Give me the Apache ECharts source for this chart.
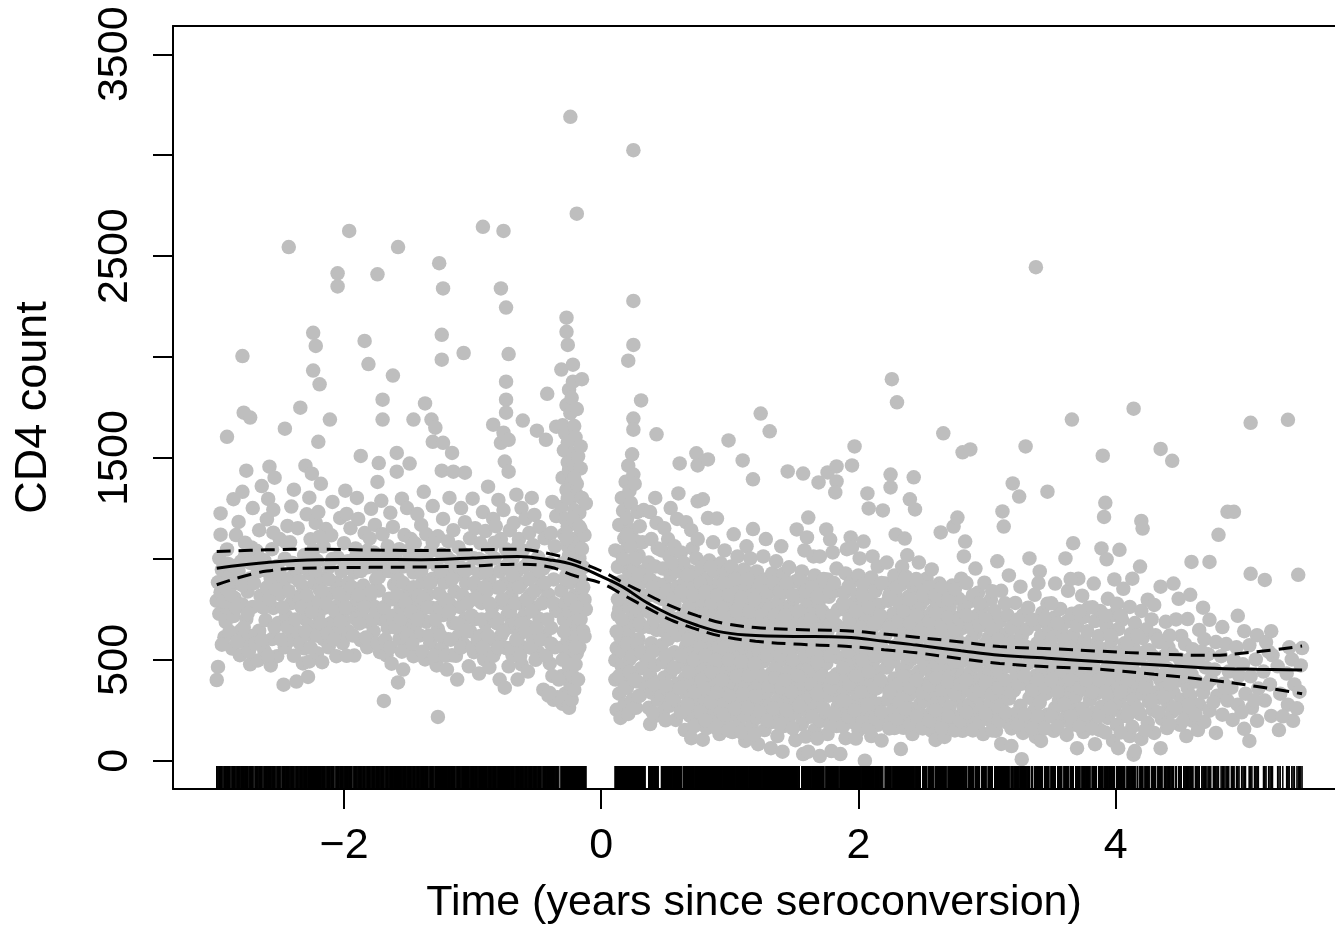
<!DOCTYPE html>
<html><head><meta charset="utf-8">
<script src="https://cdn.jsdelivr.net/npm/echarts@6/dist/echarts.min.js"></script>
<style>html,body{margin:0;padding:0;background:#fff}#main{width:1335px;height:949px}</style>
</head><body><div id="main"></div>
<script>
// ---- Data: [time (years since seroconversion), CD4 count] ----
const preSero = [
[-2.99,400],[-2.98,465],[-2.97,728],[-2.99,792],[-2.96,835],[-2.98,884],[-2.95,946],[-2.97,1003],[-2.96,1225],
[-2.93,612],[-2.92,688],[-2.91,757],[-2.92,853],[-2.9,909],[-2.91,1047],[-2.91,1605],
[-2.87,556],[-2.86,717],[-2.85,806],[-2.87,872],[-2.86,963],[-2.84,1118],[-2.86,1296],
[-2.81,523],[-2.8,647],[-2.79,774],[-2.81,893],[-2.8,988],[-2.82,1183],[-2.79,1332],[-2.79,2005],
[-2.77,584],[-2.76,703],[-2.75,838],[-2.77,1012],[-2.76,1437],[-2.78,1724],
[-2.73,478],[-2.72,618],[-2.71,762],[-2.73,903],[-2.72,1057],[-2.71,1252],[-2.73,1700],
[-2.67,497],[-2.66,644],[-2.65,817],[-2.67,938],[-2.66,1142],[-2.64,1361],
[-2.62,546],[-2.61,697],[-2.6,858],[-2.62,993],[-2.6,1196],[-2.59,1297],[-2.58,1457],
[-2.57,472],[-2.56,603],[-2.55,757],[-2.57,902],[-2.56,1048],[-2.55,1243],[-2.54,1402],
[-2.52,518],[-2.51,683],[-2.5,826],[-2.52,963],[-2.5,1098],
[-2.47,377],[-2.46,562],[-2.45,718],[-2.47,884],[-2.46,1001],[-2.44,1163],[-2.46,1645],[-2.43,2545],
[-2.42,598],[-2.41,781],[-2.4,912],[-2.42,1082],[-2.41,1259],[-2.39,1343],
[-2.37,392],[-2.36,638],[-2.35,812],[-2.37,947],[-2.36,1152],[-2.34,1749],
[-2.32,482],[-2.31,557],[-2.3,702],[-2.32,863],[-2.31,1018],[-2.29,1221],[-2.3,1462],
[-2.28,415],[-2.27,492],[-2.26,622],[-2.28,788],[-2.27,928],[-2.26,1097],[-2.27,1303],[-2.25,1422],
[-2.24,2120],[-2.24,1933],[-2.25,662],[-2.23,878],[-2.24,1043],[-2.22,1178],
[-2.22,2055],[-2.19,1865],[-2.2,1580],[-2.21,533],[-2.2,722],[-2.19,848],[-2.21,992],[-2.2,1232],[-2.18,1372],
[-2.17,488],[-2.16,603],[-2.15,758],[-2.17,902],[-2.16,1062],[-2.14,1148],
[-2.11,1690],[-2.12,562],[-2.1,683],[-2.11,828],[-2.12,958],[-2.1,1117],[-2.09,1282],
[-2.05,2415],[-2.05,2350],[-2.06,518],[-2.05,642],[-2.04,773],[-2.06,882],[-2.05,1008],[-2.03,1203],
[-2.01,583],[-2.0,698],[-1.99,822],[-2.01,947],[-2.0,1078],[-1.98,1223],[-1.99,1338],
[-1.96,2625],[-1.97,643],[-1.96,757],[-1.95,862],[-1.97,988],[-1.95,1152],
[-1.92,521],[-1.91,703],[-1.9,797],[-1.92,932],[-1.91,1052],[-1.89,1198],[-1.9,1302],
[-1.87,1510],[-1.87,598],[-1.86,742],[-1.85,868],[-1.86,1003],[-1.84,1128],[-1.84,2080],
[-1.81,1965],[-1.82,562],[-1.81,688],[-1.8,812],[-1.82,958],[-1.8,1102],[-1.79,1248],
[-1.74,2410],[-1.77,641],[-1.76,762],[-1.75,898],[-1.77,1032],[-1.76,1168],[-1.74,1381],
[-1.73,1475],[-1.72,538],[-1.71,702],[-1.73,843],[-1.72,978],[-1.7,1122],[-1.71,1288],
[-1.69,296],[-1.7,1789],[-1.7,1690],[-1.67,522],[-1.66,658],[-1.65,803],[-1.67,942],[-1.66,1063],[-1.64,1228],
[-1.62,1908],[-1.59,1525],[-1.59,1432],[-1.63,481],[-1.62,718],[-1.61,872],[-1.6,1012],[-1.62,1158],
[-1.58,2545],[-1.58,388],[-1.57,603],[-1.56,758],[-1.58,902],[-1.57,1048],[-1.55,1298],
[-1.54,452],[-1.53,642],[-1.52,818],[-1.54,962],[-1.53,1118],[-1.51,1252],
[-1.49,1472],[-1.5,562],[-1.49,698],[-1.48,852],[-1.5,992],[-1.48,1098],
[-1.46,1690],[-1.46,518],[-1.45,663],[-1.44,788],[-1.46,932],[-1.45,1078],[-1.43,1222],
[-1.41,621],[-1.4,742],[-1.39,883],[-1.41,1018],[-1.4,1168],[-1.38,1332],
[-1.37,1770],[-1.37,502],[-1.36,688],[-1.35,822],[-1.37,978],[-1.36,1122],
[-1.32,1690],[-1.29,1650],[-1.31,1580],[-1.33,583],[-1.32,758],[-1.31,902],[-1.33,1038],[-1.31,1262],
[-1.27,217],[-1.28,472],[-1.27,652],[-1.26,828],[-1.28,968],[-1.27,1112],
[-1.26,2465],[-1.24,2110],[-1.24,1987],[-1.23,2340],[-1.23,1575],[-1.16,1525],[-1.24,1437],
[-1.24,558],[-1.23,722],[-1.22,882],[-1.24,1022],[-1.23,1198],
[-1.2,452],[-1.19,602],[-1.18,778],[-1.2,942],[-1.19,1088],[-1.18,1302],
[-1.15,1432],[-1.16,522],[-1.15,682],[-1.14,838],[-1.16,988],[-1.15,1142],
[-1.12,402],[-1.11,618],[-1.1,762],[-1.12,922],[-1.11,1058],[-1.09,1252],
[-1.07,2020],[-1.06,1427],[-1.07,578],[-1.06,702],[-1.05,878],[-1.07,1022],[-1.06,1182],
[-1.03,468],[-1.02,642],[-1.01,798],[-1.03,952],[-1.02,1102],[-1.0,1298],
[-0.99,538],[-0.98,702],[-0.97,858],[-0.99,1003],[-0.98,1152],
[-0.92,2645],[-0.95,432],[-0.94,618],[-0.93,782],[-0.95,928],[-0.94,1078],[-0.92,1232],
[-0.91,502],[-0.9,678],[-0.89,842],[-0.91,988],[-0.9,1138],[-0.88,1358],
[-0.87,462],[-0.86,602],[-0.85,758],[-0.87,902],[-0.86,1052],[-0.84,1198],
[-0.84,1665],[-0.83,538],[-0.82,702],[-0.81,858],[-0.83,1002],[-0.82,1162],[-0.8,1292],
[-0.78,2340],[-0.78,1575],[-0.79,402],[-0.78,618],[-0.77,782],[-0.79,938],[-0.78,1098],[-0.76,1242],
[-0.76,2625],[-0.74,2245],[-0.74,1878],[-0.74,1789],[-0.74,1724],[-0.76,1625],[-0.75,1482],
[-0.75,362],[-0.74,558],[-0.73,722],[-0.75,878],[-0.74,1048],
[-0.72,2015],[-0.72,1590],[-0.72,1432],[-0.72,468],[-0.71,662],[-0.7,818],[-0.72,978],[-0.71,1142],
[-0.69,522],[-0.68,698],[-0.67,862],[-0.69,1002],[-0.68,1178],[-0.66,1318],
[-0.65,402],[-0.64,622],[-0.63,778],[-0.65,942],[-0.64,1098],[-0.62,1252],
[-0.61,1685],[-0.62,478],[-0.61,562],[-0.6,718],[-0.62,878],[-0.61,1042],[-0.59,1198],
[-0.57,442],[-0.56,662],[-0.55,822],[-0.57,978],[-0.56,1128],[-0.54,1302],
[-0.53,602],[-0.52,758],[-0.51,922],[-0.53,1068],[-0.52,1218],
[-0.5,1635],[-0.49,538],[-0.48,702],[-0.47,862],[-0.49,1008],[-0.48,1158],
[-0.42,1818],[-0.43,1590],[-0.45,352],[-0.44,618],[-0.43,798],[-0.45,952],[-0.44,1102],
[-0.41,322],[-0.4,482],[-0.39,658],[-0.41,822],[-0.4,978],[-0.39,1128],[-0.38,1282],
[-0.35,1655],[-0.37,302],[-0.36,562],[-0.35,742],[-0.37,898],[-0.36,1062],[-0.35,1212]
];
const preSeroExtra = [
[-2.95,575],[-2.94,790],[-2.96,1120],[-2.89,640],[-2.88,820],[-2.9,975],[-2.83,590],[-2.84,760],[-2.82,940],[-2.78,660],[-2.79,870],[-2.77,1080],
[-2.74,540],[-2.75,730],[-2.73,980],[-2.69,580],[-2.7,880],[-2.68,1040],[-2.64,600],[-2.63,760],[-2.65,1000],[-2.59,520],[-2.58,800],[-2.6,940],
[-2.54,660],[-2.53,850],[-2.55,1130],[-2.49,600],[-2.48,760],[-2.5,930],[-2.44,660],[-2.43,840],[-2.45,1080],[-2.39,520],[-2.38,700],[-2.4,980],
[-2.34,580],[-2.33,760],[-2.35,890],[-2.3,640],[-2.29,820],[-2.31,960],[-2.26,560],[-2.25,740],[-2.27,1000],[-2.21,620],[-2.2,790],[-2.22,940],
[-2.18,680],[-2.17,840],[-2.19,1110],[-2.13,630],[-2.14,780],[-2.12,900],[-2.08,600],[-2.07,740],[-2.09,1000],[-2.03,690],[-2.04,830],[-2.02,940],
[-1.98,520],[-1.99,760],[-1.97,880],[-1.93,620],[-1.94,860],[-1.92,1000],[-1.88,680],[-1.89,820],[-1.87,940],[-1.83,610],[-1.84,760],[-1.82,1040],
[-1.78,700],[-1.79,840],[-1.77,960],[-1.74,580],[-1.75,740],[-1.73,910],[-1.68,600],[-1.69,760],[-1.67,1010],[-1.64,560],[-1.63,800],[-1.65,940],
[-1.6,660],[-1.59,820],[-1.61,960],[-1.55,540],[-1.56,700],[-1.54,880],[-1.51,620],[-1.52,780],[-1.5,1040],[-1.47,580],[-1.48,740],[-1.46,860],
[-1.43,700],[-1.42,820],[-1.44,1000],[-1.39,540],[-1.38,800],[-1.4,940],[-1.34,620],[-1.35,760],[-1.33,880],[-1.3,520],[-1.29,700],[-1.31,1080],
[-1.25,620],[-1.26,760],[-1.24,940],[-1.21,520],[-1.22,800],[-1.2,1010],[-1.17,600],[-1.18,740],[-1.16,900],[-1.13,520],[-1.12,680],[-1.14,980],
[-1.09,560],[-1.08,820],[-1.1,960],[-1.05,640],[-1.04,780],[-1.06,940],[-1.0,560],[-1.01,720],[-0.99,880],[-0.96,600],[-0.97,800],[-0.95,1000],
[-0.92,560],[-0.93,700],[-0.91,860],[-0.88,620],[-0.87,780],[-0.89,940],[-0.84,520],[-0.85,720],[-0.83,1080],[-0.8,560],[-0.81,680],[-0.79,860],
[-0.76,640],[-0.77,800],[-0.75,960],[-0.7,560],[-0.71,740],[-0.69,920],[-0.66,600],[-0.67,780],[-0.65,1060],[-0.63,520],[-0.62,680],[-0.64,860],
[-0.59,640],[-0.58,800],[-0.6,960],[-0.55,560],[-0.54,740],[-0.56,900],[-0.51,500],[-0.5,660],[-0.52,840],[-0.47,600],[-0.46,780],[-0.48,940],
[-0.43,520],[-0.42,700],[-0.44,880],[-0.38,420],[-0.39,580],[-0.37,780]
];
const stripBefore = [
[-0.31,1938],[-0.3,282],[-0.31,418],[-0.3,562],[-0.29,698],[-0.31,842],[-0.3,978],[-0.29,1122],[-0.31,1258],[-0.3,1402],[-0.29,1538],[-0.3,1662],
[-0.27,2195],[-0.27,2125],[-0.28,332],[-0.27,502],[-0.26,638],[-0.28,782],[-0.27,918],[-0.26,1062],[-0.28,1198],[-0.27,1342],[-0.26,1478],[-0.28,1622],[-0.27,1762],
[-0.26,2060],[-0.24,3190],[-0.26,290],[-0.25,262],[-0.24,378],[-0.25,462],[-0.26,602],[-0.25,738],[-0.24,882],[-0.25,1018],[-0.26,1162],[-0.24,1298],[-0.25,1442],[-0.26,1578],[-0.24,1722],[-0.25,1838],
[-0.22,1878],[-0.23,302],[-0.22,418],[-0.23,552],[-0.22,682],[-0.21,818],[-0.23,962],[-0.22,1098],[-0.21,1242],[-0.23,1378],[-0.22,1522],[-0.21,1658],[-0.23,1798],[-0.22,1962],
[-0.21,352],[-0.2,478],[-0.21,622],[-0.2,758],[-0.19,902],[-0.21,1038],[-0.2,1182],[-0.19,1318],[-0.21,1462],[-0.2,1602],[-0.19,1742],
[-0.19,2710],[-0.18,402],[-0.19,532],[-0.18,668],[-0.17,812],[-0.19,948],[-0.18,1092],[-0.17,1228],[-0.19,1372],[-0.18,1508],
[-0.17,562],[-0.16,702],[-0.15,848],[-0.17,1002],[-0.16,1148],[-0.15,1302],[-0.16,1448],[-0.15,1890],[-0.16,1557],
[-0.14,642],[-0.13,798],[-0.14,958],[-0.13,1118],[-0.12,1275],[-0.12,750],[-0.13,615],
[-0.34,315],[-0.4,335],[-0.33,402],
[-0.3,500],[-0.29,640],[-0.28,900],[-0.27,1100],[-0.26,1300],[-0.25,560],[-0.24,800],[-0.23,1000],[-0.22,1200],[-0.21,1400],
[-0.2,560],[-0.19,760],[-0.18,980],[-0.17,1160],[-0.16,900],[-0.15,1050],[-0.14,860]
];
const stripAfter = [
[0.11,498],[0.12,252],[0.11,402],[0.12,558],[0.13,722],[0.12,878],[0.11,1042],
[0.15,212],[0.14,332],[0.16,468],[0.15,612],[0.14,752],[0.16,888],[0.15,1032],[0.14,1168],[0.16,1302],
[0.18,278],[0.17,422],[0.19,538],[0.18,682],[0.17,822],[0.19,958],[0.18,1102],[0.17,1238],[0.19,1382],
[0.21,1982],[0.21,232],[0.2,362],[0.22,502],[0.21,638],[0.2,782],[0.22,918],[0.21,1062],[0.2,1198],[0.22,1338],[0.21,1462],
[0.24,302],[0.23,438],[0.25,582],[0.24,718],[0.23,862],[0.25,998],[0.24,1142],[0.23,1278],[0.25,1418],[0.24,1518],
[0.25,3025],[0.25,2278],[0.25,2060],[0.25,1695],[0.25,1640],
[0.27,262],[0.28,392],[0.26,528],[0.27,672],[0.28,808],[0.26,952],[0.27,1088],[0.28,1232],[0.26,1372],
[0.3,322],[0.31,458],[0.29,602],[0.3,738],[0.31,882],[0.29,1018],[0.3,1162],
[0.31,1785],[0.33,382],[0.34,518],[0.32,662],[0.33,798],[0.34,942],[0.32,1082],[0.33,1242],
[0.12,640],[0.13,800],[0.13,960],[0.14,420],[0.16,540],[0.16,700],[0.17,1000],[0.18,360],[0.19,860],[0.2,580],[0.2,1120],
[0.22,440],[0.22,760],[0.23,1060],[0.24,520],[0.25,880],[0.26,400],[0.26,760],[0.27,1000],[0.28,580],[0.29,320],[0.29,920],
[0.3,680],[0.31,540],[0.32,820],[0.33,460]
];
const postSero = [
[0.38,182],[0.37,262],[0.39,338],[0.38,422],[0.37,498],[0.39,582],[0.38,662],[0.37,738],[0.39,822],[0.38,898],[0.37,982],[0.39,1098],[0.38,1232],
[0.43,1617],[0.42,222],[0.44,302],[0.43,388],[0.42,472],[0.44,558],[0.43,648],[0.42,732],[0.44,812],[0.43,878],[0.42,962],[0.44,1052],[0.43,1178],[0.42,1302],
[0.48,242],[0.47,328],[0.49,412],[0.48,488],[0.47,572],[0.49,642],[0.48,718],[0.47,802],[0.49,872],[0.48,952],[0.47,1042],[0.49,1152],
[0.53,272],[0.52,352],[0.54,438],[0.53,522],[0.52,602],[0.54,688],[0.53,762],[0.52,842],[0.54,918],[0.53,1012],[0.52,1098],[0.54,1252],
[0.58,202],[0.57,298],[0.59,382],[0.58,462],[0.57,538],[0.59,622],[0.58,702],[0.57,778],[0.59,862],[0.58,938],[0.57,1062],[0.59,1198],[0.6,1324],
[0.61,1473],[0.62,1032],
[0.65,152],[0.64,248],[0.66,332],[0.65,408],[0.64,492],[0.66,568],[0.65,652],[0.64,728],[0.66,812],[0.65,888],[0.64,982],[0.66,1182],
[0.7,112],[0.69,222],[0.71,298],[0.7,382],[0.69,458],[0.71,542],[0.7,618],[0.69,702],[0.71,778],[0.7,862],[0.69,938],[0.71,1052],[0.7,1142],
[0.74,1523],[0.75,1463],[0.75,1285],[0.76,182],[0.74,268],[0.75,352],[0.76,428],[0.74,512],[0.75,588],[0.76,672],[0.74,748],[0.75,832],[0.76,908],[0.74,1002],[0.75,1098],
[0.79,104],[0.78,232],[0.8,308],[0.79,392],[0.78,468],[0.8,552],[0.79,628],[0.78,712],[0.8,788],[0.79,872],[0.78,958],[0.79,1295],
[0.83,1493],[0.82,162],[0.84,258],[0.83,342],[0.82,418],[0.84,502],[0.83,578],[0.82,662],[0.84,738],[0.83,822],[0.82,898],[0.84,992],[0.83,1202],
[0.88,198],[0.87,292],[0.89,372],[0.88,448],[0.87,532],[0.89,608],[0.88,692],[0.87,768],[0.89,852],[0.88,938],[0.87,1082],[0.9,1200],
[0.92,132],[0.93,238],[0.91,322],[0.92,402],[0.93,478],[0.91,562],[0.92,638],[0.93,722],[0.91,798],[0.92,882],[0.93,978],
[0.97,188],[0.96,282],[0.98,358],[0.97,442],[0.96,518],[0.98,602],[0.97,678],[0.96,762],[0.98,838],[0.97,932],[0.96,1042],[0.99,1587],
[1.02,142],[1.01,228],[1.03,312],[1.02,388],[1.01,472],[1.03,548],[1.02,632],[1.01,708],[1.03,792],[1.02,868],[1.01,962],[1.03,1122],
[1.07,178],[1.06,272],[1.08,348],[1.07,432],[1.06,508],[1.08,592],[1.07,668],[1.06,752],[1.08,828],[1.07,922],[1.06,1012],[1.1,1488],
[1.12,98],[1.11,222],[1.13,298],[1.12,382],[1.11,458],[1.13,542],[1.12,618],[1.11,702],[1.13,778],[1.12,862],[1.11,948],[1.13,1062],
[1.18,1394],[1.17,172],[1.16,258],[1.18,342],[1.17,418],[1.16,502],[1.18,578],[1.17,662],[1.16,738],[1.18,822],[1.17,898],[1.16,1002],[1.18,1148],
[1.22,82],[1.21,212],[1.23,288],[1.22,372],[1.21,448],[1.23,532],[1.22,608],[1.21,692],[1.23,768],[1.22,852],[1.21,938],[1.24,1720],
[1.27,152],[1.26,248],[1.28,332],[1.27,408],[1.26,492],[1.28,568],[1.27,652],[1.26,728],[1.28,812],[1.27,898],[1.26,1012],[1.28,1098],[1.31,1632],
[1.32,62],[1.33,192],[1.31,278],[1.32,362],[1.33,438],[1.31,522],[1.32,598],[1.33,682],[1.31,758],[1.32,842],[1.33,928],
[1.37,122],[1.36,232],[1.38,308],[1.37,392],[1.36,468],[1.38,552],[1.37,628],[1.36,712],[1.38,788],[1.37,882],[1.36,988],
[1.41,45],[1.42,172],[1.4,258],[1.41,342],[1.42,418],[1.4,502],[1.41,578],[1.42,662],[1.4,738],[1.41,832],[1.42,928],[1.4,1062],[1.45,1433],
[1.46,212],[1.47,288],[1.45,372],[1.46,448],[1.47,532],[1.45,608],[1.46,692],[1.47,768],[1.45,862],[1.46,958],
[1.51,102],[1.52,238],[1.5,322],[1.51,398],[1.52,482],[1.5,558],[1.51,642],[1.52,718],[1.5,802],[1.51,888],[1.52,1146],
[1.57,1423],[1.57,33],[1.56,182],[1.58,268],[1.57,352],[1.56,428],[1.58,512],[1.57,588],[1.56,672],[1.58,748],[1.57,842],[1.56,938],[1.58,1042],
[1.61,1205],[1.61,45],[1.62,218],[1.6,302],[1.61,378],[1.62,462],[1.6,538],[1.61,622],[1.62,698],[1.6,792],[1.61,878],[1.6,1106],
[1.66,152],[1.65,258],[1.67,342],[1.66,418],[1.65,502],[1.67,578],[1.66,662],[1.65,738],[1.67,832],[1.66,918],[1.65,1012],
[1.69,1379],[1.7,23],[1.71,198],[1.69,292],[1.7,368],[1.71,452],[1.69,528],[1.7,612],[1.71,688],[1.69,782],[1.7,868],[1.7,1012],
[1.76,1428],[1.75,1146],[1.8,1032],[1.76,132],[1.75,238],[1.77,322],[1.76,398],[1.75,482],[1.77,558],[1.76,642],[1.75,718],[1.77,812],[1.76,898],[1.79,48],[1.78,1096],
[1.83,1458],[1.83,1384],[1.82,1329],[1.83,172],[1.84,268],[1.82,352],[1.83,428],[1.84,512],[1.82,588],[1.83,672],[1.84,748],[1.82,842],[1.83,952],
[1.86,33],[1.87,222],[1.85,298],[1.86,382],
[1.9,112],[1.91,262],[1.89,338],[1.9,422],[1.91,498],[1.89,582],[1.9,658],[1.91,742],[1.89,832],[1.9,928],[1.91,1048],
[1.95,1463],[1.94,1106],[1.95,1056],[1.97,1557],[1.95,192],[1.96,288],[1.94,372],[1.95,448],[1.96,532],[1.94,608],[1.95,692],[1.96,778],[1.94,882],
[2.0,152],[2.01,248],[1.99,332],[2.0,408],[2.01,492],[1.99,568],[2.0,652],[2.01,728],[1.99,822],[2.0,918],[2.01,1002],
[2.05,0],[2.04,1086],[2.05,198],[2.06,292],[2.04,368],[2.05,452],[2.06,528],[2.04,612],[2.05,688],[2.06,782],[2.04,872],[2.07,1324],[2.08,1250],
[2.1,122],[2.11,238],[2.09,322],[2.1,398],[2.11,482],[2.09,558],[2.1,642],[2.11,718],[2.09,812],[2.1,908],[2.11,1012],
[2.15,178],[2.16,282],[2.14,358],[2.15,442],[2.16,518],[2.14,602],[2.15,678],[2.16,772],[2.14,858],[2.15,962],[2.18,100],[2.19,1240],
[2.22,218],[2.23,302],[2.21,378],[2.22,462],[2.23,538],[2.21,622],[2.22,698],[2.23,792],[2.21,878],[2.22,982],
[2.26,1890],[2.25,1418],[2.25,1354],[2.3,1776],
[2.28,162],[2.27,248],[2.29,332],[2.28,408],[2.27,492],[2.29,568],[2.28,652],[2.27,728],[2.29,822],[2.28,918],[2.29,1121],
[2.33,58],[2.34,202],[2.32,288],[2.33,372],[2.34,448],[2.32,532],[2.33,608],[2.34,692],[2.32,778],[2.33,872],[2.34,962],[2.35,163],[2.36,1101],
[2.38,238],[2.39,322],[2.37,398],[2.38,482],[2.39,558],[2.37,642],[2.38,718],[2.39,812],[2.37,912],[2.38,1018],
[2.43,1404],[2.4,1295],[2.44,1245],[2.42,132],[2.41,258],[2.43,342],[2.42,418],[2.41,502],[2.43,578],[2.42,662],[2.41,748],[2.43,852],
[2.47,178],[2.48,282],[2.46,358],[2.47,442],[2.48,518],[2.46,602],[2.47,678],[2.48,772],[2.46,868],[2.47,982],
[2.52,222],[2.51,298],[2.53,382],[2.52,458],[2.51,542],[2.53,618],[2.52,712],[2.51,798],[2.53,902],
[2.57,148],[2.58,252],[2.56,328],[2.57,412],[2.58,488],[2.56,572],[2.57,648],[2.58,742],[2.56,838],[2.57,948],[2.6,103],
[2.62,198],[2.61,292],[2.63,368],[2.62,452],[2.61,528],[2.63,612],[2.62,688],[2.61,782],[2.63,878],[2.66,1622],[2.64,1131],
[2.67,118],[2.68,242],[2.66,318],[2.67,402],[2.68,478],[2.66,562],[2.67,638],[2.68,732],[2.66,828],
[2.72,182],[2.71,268],[2.73,352],[2.72,428],[2.71,512],[2.73,588],[2.72,672],[2.71,762],[2.73,868],[2.74,1160],
[2.77,1205],[2.77,218],[2.78,302],[2.76,378],[2.77,462],[2.78,538],[2.76,622],[2.77,708],[2.78,802],
[2.81,1528],[2.83,1086],[2.82,1012],[2.81,148],[2.82,262],[2.8,338],[2.81,422],[2.82,498],[2.8,582],[2.81,658],[2.82,752],[2.8,902],
[2.87,1542],[2.87,192],[2.86,278],[2.88,362],[2.87,438],[2.86,522],[2.88,598],[2.87,692],[2.86,788],
[2.92,228],[2.93,312],[2.91,388],[2.92,472],[2.93,548],[2.91,632],[2.92,718],[2.93,832],[2.91,952],
[2.97,132],[2.96,258],[2.98,342],[2.97,418],[2.96,502],[2.98,578],[2.97,672],[2.96,758],[2.98,882],
[3.02,202],[3.03,288],[3.01,372],[3.02,448],[3.03,532],[3.01,608],[3.02,702],[3.03,798],
[3.07,148],[3.06,242],[3.08,318],[3.07,402],[3.06,478],[3.08,562],[3.07,648],[3.06,742],[3.08,988],
[3.11,83],[3.12,1235],[3.13,1160],[3.11,278],[3.12,362],[3.1,438],[3.11,522],[3.12,598],[3.1,692],[3.11,842],
[3.16,188],[3.17,308],[3.15,392],[3.16,468],[3.17,552],[3.15,628],[3.16,722],[3.17,918],[3.19,73],[3.2,1374],
[3.22,232],[3.21,348],[3.23,432],[3.22,508],[3.21,592],[3.23,668],[3.22,782],[3.25,1309],
[3.27,8],[3.28,138],[3.26,272],[3.27,382],[3.28,458],[3.26,542],[3.27,618],[3.28,722],[3.26,862],[3.3,1557],
[3.32,198],[3.33,312],[3.31,398],[3.32,482],[3.33,558],[3.31,652],[3.32,758],[3.33,1002],
[3.38,2445],[3.38,118],[3.37,252],[3.39,338],[3.38,422],[3.37,498],[3.39,582],[3.38,678],[3.37,822],
[3.42,98],[3.43,182],[3.41,288],[3.42,372],[3.43,448],[3.41,532],[3.42,618],[3.43,732],[3.41,938],
[3.47,1333],[3.47,228],[3.46,332],[3.48,408],[3.47,492],[3.46,568],[3.48,662],[3.47,778],
[3.52,148],[3.53,262],[3.51,358],[3.52,442],[3.53,518],[3.51,612],[3.52,708],[3.53,878],
[3.57,202],[3.56,298],[3.58,392],[3.57,468],[3.56,552],[3.58,638],[3.57,752],
[3.62,128],[3.63,242],[3.61,338],[3.62,422],[3.63,498],[3.61,592],[3.62,688],[3.63,842],[3.61,1002],
[3.66,1690],[3.67,1078],[3.66,178],[3.65,282],[3.67,368],[3.66,452],[3.65,528],[3.67,622],[3.66,728],
[3.7,62],[3.71,232],[3.69,318],[3.7,402],[3.71,478],[3.69,572],[3.7,668],[3.71,902],
[3.75,142],[3.74,258],[3.76,352],[3.75,428],[3.74,512],[3.76,598],[3.75,712],[3.74,818],
[3.79,198],[3.8,302],[3.78,378],[3.79,462],[3.8,538],[3.78,642],[3.79,758],
[3.84,82],[3.83,238],[3.85,332],[3.84,408],[3.83,492],[3.85,578],[3.84,692],[3.83,878],
[3.88,152],[3.89,268],[3.87,362],[3.88,438],[3.89,522],[3.87,618],[3.88,742],[3.89,1052],
[3.9,1511],[3.92,1278],[3.91,1208],[3.93,998],
[3.94,212],[3.95,308],[3.93,392],[3.94,468],[3.95,562],[3.93,668],[3.94,802],
[3.98,98],[3.99,252],[3.97,338],[3.98,422],[3.99,502],[3.97,598],[3.98,722],[3.99,898],
[4.02,62],[4.01,178],[4.03,292],[4.02,372],[4.01,452],[4.03,538],[4.02,652],[4.01,778],[4.03,1045],
[4.06,222],[4.07,328],[4.05,412],[4.06,488],[4.07,582],[4.05,698],[4.06,852],
[4.11,122],[4.1,258],[4.12,362],[4.11,438],[4.1,532],[4.12,628],[4.11,762],
[4.14,1744],[4.14,30],[4.15,48],[4.13,168],[4.14,302],[4.15,388],[4.13,472],[4.14,558],[4.15,682],[4.13,902],
[4.2,1188],[4.21,1150],[4.2,108],[4.19,232],[4.21,332],[4.2,418],[4.19,512],[4.21,608],[4.2,742],[4.19,962],
[4.25,188],[4.26,292],[4.24,378],[4.25,462],[4.26,548],[4.24,652],[4.25,798],
[4.3,138],[4.29,252],[4.31,338],[4.3,432],[4.29,518],[4.31,622],[4.3,772],
[4.35,1545],[4.35,62],[4.36,208],[4.34,312],[4.35,398],[4.36,492],[4.34,588],[4.35,862],
[4.4,162],[4.41,278],[4.39,372],[4.4,458],[4.41,562],[4.39,688],
[4.44,1486],[4.44,242],[4.45,338],[4.43,432],[4.44,528],[4.45,878],
[4.5,178],[4.51,302],[4.49,398],[4.5,502],[4.51,618],[4.49,802],
[4.55,122],[4.54,248],[4.56,362],[4.55,472],[4.54,578],[4.56,702],
[4.59,985],[4.6,198],[4.58,322],[4.59,428],[4.6,552],[4.58,822],
[4.64,152],[4.65,278],[4.63,392],[4.64,498],[4.65,648],
[4.69,192],[4.68,338],[4.7,462],[4.69,602],[4.68,758],
[4.73,985],[4.73,248],[4.74,402],[4.72,528],[4.73,698],
[4.8,1119],[4.78,138],[4.79,322],[4.77,452],[4.78,588],
[4.83,228],[4.84,382],[4.82,518],[4.83,662],
[4.87,1233],[4.92,1233],[4.87,298],[4.88,442],[4.86,578],
[4.91,202],[4.9,362],[4.92,498],
[4.95,278],[4.96,422],[4.94,562],[4.95,718],
[5.0,158],[5.01,332],[4.99,478],[5.0,642],
[5.05,926],[5.05,1674],[5.04,98],[5.06,262],[5.05,418],[5.04,572],
[5.1,198],[5.11,358],[5.09,502],[5.1,622],
[5.16,896],[5.16,298],[5.15,442],[5.17,588],
[5.21,222],[5.2,378],[5.22,522],[5.21,642],
[5.27,152],[5.28,332],[5.26,468],
[5.34,1689],[5.34,278],[5.33,432],[5.35,562],
[5.38,198],[5.39,378],[5.37,502],
[5.42,921],[5.43,342],[5.44,472],[5.45,558]
];
const postSeroExtra = [
[0.4,240],[0.41,380],[0.4,540],[0.41,700],[0.4,860],[0.5,200],[0.51,370],[0.5,520],[0.51,680],[0.5,830],
[0.55,310],[0.56,460],[0.55,660],[0.56,800],[0.55,980],[0.62,240],[0.61,360],[0.62,520],[0.61,690],[0.62,840],
[0.67,280],[0.68,440],[0.67,600],[0.68,760],[0.67,920],[0.72,170],[0.73,340],[0.72,500],[0.73,660],[0.72,820],
[0.77,240],[0.78,400],[0.77,560],[0.78,720],[0.77,880],[0.81,200],[0.8,360],[0.81,520],[0.8,680],[0.81,840],
[0.85,290],[0.86,440],[0.85,620],[0.86,780],[0.85,960],[0.9,160],[0.9,340],[0.9,500],[0.9,660],[0.9,820],
[0.95,230],[0.94,400],[0.95,560],[0.94,720],[0.95,880],[0.99,150],[1.0,320],[0.99,500],[1.0,660],[0.99,820],
[1.04,260],[1.05,420],[1.04,580],[1.05,740],[1.04,900],[1.09,140],[1.1,330],[1.09,490],[1.1,650],[1.09,810],
[1.14,260],[1.15,420],[1.14,580],[1.15,740],[1.14,900],[1.19,130],[1.2,320],[1.19,480],[1.2,640],[1.19,800],
[1.24,240],[1.25,420],[1.24,560],[1.25,720],[1.24,880],[1.29,200],[1.3,370],[1.29,520],[1.3,680],[1.29,840],
[1.34,260],[1.35,410],[1.34,560],[1.35,720],[1.34,880],[1.39,180],[1.4,360],[1.39,520],[1.4,680],[1.39,840],
[1.44,250],[1.43,400],[1.44,560],[1.43,720],[1.44,880],[1.49,160],[1.48,340],[1.49,500],[1.48,660],[1.49,820],
[1.54,270],[1.53,420],[1.54,580],[1.53,740],[1.54,900],[1.59,120],[1.58,380],[1.59,520],[1.58,680],[1.59,840],
[1.64,220],[1.63,380],[1.64,540],[1.63,700],[1.64,860],[1.68,110],[1.68,330],[1.68,490],[1.68,650],[1.68,810],
[1.73,260],[1.72,420],[1.73,580],[1.72,740],[1.73,900],[1.78,180],[1.78,360],[1.78,520],[1.78,680],[1.78,840],
[1.81,230],[1.8,410],[1.81,560],[1.8,720],[1.81,880],[1.88,170],[1.88,300],[1.88,460],[1.88,620],[1.88,780],
[1.92,220],[1.93,380],[1.92,540],[1.93,700],[1.92,860],[1.98,110],[1.97,250],[1.98,420],[1.97,580],[1.98,740],
[2.03,190],[2.02,340],[2.03,500],[2.02,660],[2.03,820],[2.08,160],[2.07,280],[2.08,440],[2.07,600],[2.08,760],
[2.13,210],[2.12,360],[2.13,520],[2.12,680],[2.13,840],[2.18,240],[2.17,400],[2.18,560],[2.17,720],[2.18,880],
[2.24,160],[2.24,340],[2.24,500],[2.24,660],[2.24,820],[2.3,210],[2.31,380],[2.3,530],[2.31,690],[2.3,860],
[2.36,260],[2.35,420],[2.36,580],[2.35,740],[2.36,900],[2.4,180],[2.4,360],[2.4,520],[2.4,680],[2.4,800],
[2.45,220],[2.45,400],[2.45,560],[2.45,720],[2.45,900],[2.5,160],[2.5,340],[2.5,500],[2.5,660],[2.5,820],
[2.55,200],[2.55,370],[2.55,530],[2.55,690],[2.55,860],[2.6,250],[2.6,410],[2.6,570],[2.6,730],[2.6,820],
[2.65,160],[2.65,350],[2.65,510],[2.65,670],[2.65,860],[2.7,220],[2.7,390],[2.7,550],[2.7,710],[2.7,800],
[2.75,150],[2.75,330],[2.75,490],[2.75,650],[2.75,850],[2.79,200],[2.79,380],[2.79,540],[2.79,700],
[2.84,240],[2.84,400],[2.84,560],[2.84,720],[2.84,880],[2.89,150],[2.89,330],[2.89,490],[2.89,650],[2.89,820],
[2.94,190],[2.94,350],[2.94,510],[2.94,670],[2.94,780],[2.99,230],[2.99,390],[2.99,550],[2.99,700],
[3.04,150],[3.04,330],[3.04,490],[3.04,650],[3.04,840],[3.09,200],[3.09,360],[3.09,510],[3.09,600],
[3.14,240],[3.14,400],[3.14,560],[3.14,780],[3.19,160],[3.19,340],[3.19,500],[3.19,660],
[3.24,180],[3.24,380],[3.24,540],[3.24,700],[3.29,230],[3.29,420],[3.29,570],
[3.35,160],[3.35,350],[3.35,520],[3.35,700],[3.4,220],[3.4,400],[3.4,560],[3.4,880],
[3.45,160],[3.45,360],[3.45,520],[3.45,700],[3.5,220],[3.5,400],[3.5,560],[3.5,780],
[3.55,170],[3.55,340],[3.55,500],[3.55,680],[3.6,280],[3.6,440],[3.6,600],
[3.65,220],[3.65,400],[3.65,560],[3.65,900],[3.72,170],[3.72,360],[3.72,520],[3.72,740],
[3.77,230],[3.77,400],[3.77,560],[3.82,160],[3.82,340],[3.82,520],[3.82,760],
[3.87,220],[3.87,400],[3.87,560],[3.92,140],[3.92,340],[3.92,520],[3.92,720],
[3.96,260],[3.96,440],[3.96,620],[4.04,140],[4.04,340],[4.04,520],[4.04,720],
[4.09,220],[4.09,400],[4.09,580],[4.17,260],[4.17,430],[4.17,620],
[4.23,150],[4.23,360],[4.23,540],[4.28,300],[4.28,460],[4.28,700],
[4.33,240],[4.33,420],[4.33,600],[4.38,320],[4.38,520],
[4.42,180],[4.42,380],[4.42,620],[4.47,260],[4.47,440],[4.47,700],
[4.53,200],[4.53,420],[4.57,280],[4.57,500],[4.62,230],[4.67,540],[4.71,380],[4.76,290],
[4.85,360],[4.98,240],[5.08,300],[5.19,540],[5.3,220],[5.41,260]
];

// Smooth fit with pointwise confidence band
const fitTime  = [-2.99,-2.6,-2.2,-1.8,-1.4,-1.0,-0.65,-0.4,-0.2,0,0.17,0.35,0.54,0.75,0.95,1.2,1.5,1.9,2.2,2.45,2.8,3.1,3.5,3.9,4.3,4.7,5.1,5.45];
const fitMean  = [954,982,996,997,996,1004,1012,995,968,913,860,785,722,670,636,620,616,612,592,573,545,523,507,490,475,460,453,450];
const fitUpper = [1037,1045,1048,1044,1042,1045,1048,1025,990,940,883,826,767,718,681,660,650,644,628,612,588,566,555,542,530,522,540,568];
const fitLower = [872,940,955,958,960,965,974,960,915,880,822,760,698,650,615,592,578,567,550,535,505,482,465,452,428,402,368,332];

const xTickValues = [-2, 0, 2, 4];
const yTickValues = [0, 500, 1000, 1500, 2000, 2500, 3000, 3500];
const yLabelValues = [0, 500, 1500, 2500, 3500];

// ---- Chart ----
const allPoints = preSero.concat(preSeroExtra, stripBefore, stripAfter, postSero, postSeroExtra);
const zip = (xs, ys) => xs.map((x, i) => [x, ys[i]]);
const FONT = 'Liberation Sans, Arial, Helvetica, sans-serif';
const chart = echarts.init(document.getElementById('main'));
const axisLineStyle = {color: '#000', width: 2};

chart.setOption({
  animation: false,
  backgroundColor: '#fff',
  grid: {left: 173, top: 26, right: 0, bottom: 160},
  xAxis: [{
    type: 'value', min: -3.33, max: 5.706, position: 'bottom',
    axisLine: {show: true, onZero: false, lineStyle: axisLineStyle},
    axisTick: {show: true, length: 20, customValues: xTickValues, lineStyle: axisLineStyle},
    axisLabel: {customValues: xTickValues, margin: 36, fontSize: 43, fontFamily: FONT, color: '#000',
      formatter: v => (v < 0 ? '\u2212' + Math.abs(v) : String(v))},
    splitLine: {show: false},
    name: 'Time (years since seroconversion)', nameLocation: 'middle', nameGap: 93,
    nameTextStyle: {fontSize: 43, fontFamily: FONT, color: '#000'}
  }, {
    type: 'value', min: -3.33, max: 5.706, position: 'top',
    axisLine: {show: true, onZero: false, lineStyle: axisLineStyle},
    axisTick: {show: false}, axisLabel: {show: false}, splitLine: {show: false}
  }],
  yAxis: {
    type: 'value', min: -140, max: 3640,
    axisLine: {show: true, onZero: false, lineStyle: axisLineStyle},
    axisTick: {show: true, length: 20, customValues: yTickValues, lineStyle: axisLineStyle},
    axisLabel: {customValues: yLabelValues, rotate: 90, margin: 36, fontSize: 43, fontFamily: FONT, color: '#000',
      formatter: v => String(v)},
    splitLine: {show: false},
    name: 'CD4 count', nameLocation: 'middle', nameGap: 117,
    nameTextStyle: {fontSize: 45, fontFamily: FONT, color: '#000'}
  },
  series: [{
    type: 'scatter', data: allPoints, symbol: 'circle', symbolSize: 14.5,
    itemStyle: {color: '#bebebe', opacity: 1}, z: 2, silent: true, large: false, progressive: 0
  }, {
    type: 'custom', data: allPoints, z: 4, silent: true, clip: false, progressive: 0,
    renderItem: (params, api) => {
      const x = api.coord([api.value(0), 0])[0];
      const cs = params.coordSys;
      const yb = cs.y + cs.height;
      return {type: 'line', shape: {x1: x, y1: yb - 23, x2: x, y2: yb},
        style: {stroke: '#000', lineWidth: 1.5}};
    }
  }, {
    type: 'line', data: zip(fitTime, fitMean), showSymbol: false, symbol: 'none', smooth: 0.4,
    lineStyle: {color: '#000', width: 3}, z: 5, silent: true
  }, {
    type: 'line', data: zip(fitTime, fitUpper), showSymbol: false, symbol: 'none', smooth: 0.4,
    lineStyle: {color: '#000', width: 3, type: [14, 8]}, z: 5, silent: true
  }, {
    type: 'line', data: zip(fitTime, fitLower), showSymbol: false, symbol: 'none', smooth: 0.4,
    lineStyle: {color: '#000', width: 3, type: [14, 8]}, z: 5, silent: true
  }]
});
</script>
</body></html>
